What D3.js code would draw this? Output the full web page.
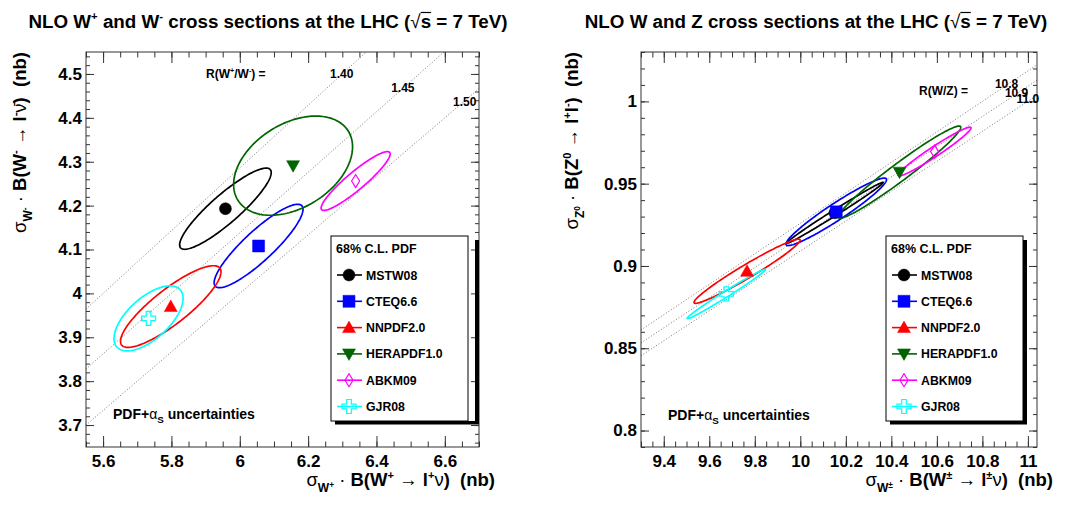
<!DOCTYPE html>
<html>
<head>
<meta charset="utf-8">
<script src="https://cdn.jsdelivr.net/npm/d3@7"></script>
<style>
  body { margin: 0; background: #ffffff; }
  svg { display: block; font-family: "Liberation Sans", Arial, Helvetica, sans-serif; }
  text { white-space: pre; }
</style>
</head>
<body>
<svg id="chart" width="1075" height="511"></svg>
<script>
// ---- PDF sets -------------------------------------------------------------
const pdfNames   = ["MSTW08", "CTEQ6.6", "NNPDF2.0", "HERAPDF1.0", "ABKM09", "GJR08"];
const pdfColors  = ["#000000", "#0000ff", "#ff0000", "#006400", "#ff00ff", "#00ffff"];
const pdfSymbols = ["circle", "square", "triangleUp", "triangleDown", "diamondOpen", "crossOpen"];

// ---- W+ vs W- cross sections (nb): central values, 68% C.L. errors, correlation
const wPlusCentral   = [5.958, 6.055, 5.798, 6.156, 6.339, 5.733];
const wMinusCentral  = [4.193, 4.108, 3.970, 4.291, 4.256, 3.943];
const wPlusErr       = [0.134, 0.130, 0.147, 0.174, 0.101, 0.101];
const wMinusErr      = [0.0925, 0.095, 0.093, 0.113, 0.067, 0.074];
const wPlusMinusCorr = [0.89, 0.88, 0.85, 0.38, 0.92, 0.62];

// ---- W vs Z cross sections (nb)
const wCentral = [10.152, 10.158, 9.766, 10.436, 10.590, 9.675];
const zCentral = [0.9323, 0.9329, 0.8968, 0.9570, 0.9695, 0.8830];
const wErr     = [0.212, 0.221, 0.233, 0.269, 0.160, 0.172];
const zErr     = [0.0185, 0.0205, 0.0195, 0.0280, 0.0148, 0.0150];
const wzCorr   = [0.994, 0.955, 0.970, 0.972, 0.970, 0.990];

// ---- constant-ratio reference lines
const ratioWpWm = [1.40, 1.45, 1.50];
const ratioWZ   = [10.8, 10.9, 11.0];

// ---- axis ticks
const xTicksL      = [5.6, 5.8, 6.0, 6.2, 6.4, 6.6];
const xTickLabelsL = ["5.6", "5.8", "6", "6.2", "6.4", "6.6"];
const yTicksL      = [3.7, 3.8, 3.9, 4.0, 4.1, 4.2, 4.3, 4.4, 4.5];
const yTickLabelsL = ["3.7", "3.8", "3.9", "4", "4.1", "4.2", "4.3", "4.4", "4.5"];
const xTicksR      = [9.4, 9.6, 9.8, 10.0, 10.2, 10.4, 10.6, 10.8, 11.0];
const xTickLabelsR = ["9.4", "9.6", "9.8", "10", "10.2", "10.4", "10.6", "10.8", "11"];
const yTicksR      = [0.80, 0.85, 0.90, 0.95, 1.00];
const yTickLabelsR = ["0.8", "0.85", "0.9", "0.95", "1"];

const svg = d3.select("#chart");

// Text with sub/superscripts built from tspans
function rich(g, x, y, size, parts, attrs = {}) {
  const t = g.append("text").attr("x", x).attr("y", y).attr("font-size", size);
  Object.entries(attrs).forEach(([k, v]) => t.attr(k, v));
  let cur = 0;
  parts.forEach(p => {
    const sh = p.sh || 0;
    const ts = t.append("tspan").text(p.t)
      .attr("font-weight", p.n ? "normal" : "bold")
      .attr("font-size", size * (p.sc || 1));
    if (sh !== cur) { ts.attr("dy", (sh - cur) * size); cur = sh; }
  });
  return t;
}

// Marker shapes (ROOT style)
function markerPath(sym) {
  switch (sym) {
    case "circle": return d3.symbol(d3.symbolCircle, Math.PI * 36)();
    case "square": return "M-6,-6H6V6H-6Z";
    case "triangleUp": return "M0,-6.5L6.5,5L-6.5,5Z";
    case "triangleDown": return "M0,6.5L6.5,-5L-6.5,-5Z";
    case "diamondOpen": return "M0,-6.5L4,0L0,6.5L-4,0Z";
    case "crossOpen": return "M-2.3,-7H2.3V-2.3H7V2.3H2.3V7H-2.3V2.3H-7V-2.3H-2.3Z";
  }
}
function drawMarker(g, x, y, i) {
  const open = pdfSymbols[i].endsWith("Open");
  g.append("path").attr("d", markerPath(pdfSymbols[i]))
    .attr("transform", `translate(${x},${y})`)
    .attr("fill", open ? "none" : pdfColors[i])
    .attr("stroke", pdfColors[i])
    .attr("stroke-width", open ? 1.2 : 0.5);
}

// Error ellipse from widths and correlation
function ellipsePoints(cx, cy, sx, sy, rho) {
  const s = Math.sqrt(1 - rho * rho);
  return d3.range(0, 181).map(k => {
    const t = k / 180 * 2 * Math.PI;
    return [cx + sx * Math.cos(t), cy + sy * (rho * Math.cos(t) + s * Math.sin(t))];
  });
}

function drawPanel(cfg) {
  const { x, y, id } = cfg;
  const g = svg.append("g");
  const [x0, x1] = x.range(), [y1, y0] = y.range();

  g.append("clipPath").attr("id", id).append("rect")
    .attr("x", x0).attr("y", y0).attr("width", x1 - x0).attr("height", y1 - y0);
  const plot = g.append("g").attr("clip-path", `url(#${id})`);

  // constant-ratio dotted lines
  const [dx0, dx1] = x.domain();
  cfg.ratios.forEach(r => {
    plot.append("line")
      .attr("x1", x(dx0)).attr("y1", y(dx0 / r))
      .attr("x2", x(dx1)).attr("y2", y(dx1 / r))
      .attr("stroke", "#555").attr("stroke-width", 0.8)
      .attr("stroke-dasharray", "1,2");
  });

  // ellipses
  const line = d3.line().x(d => x(d[0])).y(d => y(d[1])).curve(d3.curveLinearClosed);
  pdfNames.forEach((n, i) => {
    plot.append("path")
      .attr("d", line(ellipsePoints(cfg.cx[i], cfg.cy[i], cfg.sx[i], cfg.sy[i], cfg.rho[i])))
      .attr("fill", "none").attr("stroke", pdfColors[i]).attr("stroke-width", 1.7);
  });
  // central values
  cfg.drawOrder.forEach(i => drawMarker(plot, x(cfg.cx[i]), y(cfg.cy[i]), i));

  // axes: major and minor ticks on all four sides
  const ax = g.append("g");
  ax.append("g").attr("transform", `translate(0,${y1})`)
    .call(d3.axisBottom(x).tickValues(cfg.xTicks).tickFormat((d, i) => cfg.xLabels[i])
      .tickSizeInner(-11).tickSizeOuter(0).tickPadding(8));
  ax.append("g").attr("transform", `translate(0,${y1})`)
    .call(d3.axisBottom(x).tickValues(cfg.xMinor).tickFormat("").tickSizeInner(-5.5).tickSizeOuter(0));
  ax.append("g").attr("transform", `translate(0,${y0})`)
    .call(d3.axisTop(x).tickValues(cfg.xTicks).tickFormat("").tickSizeInner(-11).tickSizeOuter(0));
  ax.append("g").attr("transform", `translate(0,${y0})`)
    .call(d3.axisTop(x).tickValues(cfg.xMinor).tickFormat("").tickSizeInner(-5.5).tickSizeOuter(0));
  ax.append("g").attr("transform", `translate(${x0},0)`)
    .call(d3.axisLeft(y).tickValues(cfg.yTicks).tickFormat((d, i) => cfg.yLabels[i])
      .tickSizeInner(-8).tickSizeOuter(0).tickPadding(4));
  ax.append("g").attr("transform", `translate(${x0},0)`)
    .call(d3.axisLeft(y).tickValues(cfg.yMinor).tickFormat("").tickSizeInner(-4).tickSizeOuter(0));
  ax.append("g").attr("transform", `translate(${x1},0)`)
    .call(d3.axisRight(y).tickValues(cfg.yTicks).tickFormat("").tickSizeInner(-8).tickSizeOuter(0));
  ax.append("g").attr("transform", `translate(${x1},0)`)
    .call(d3.axisRight(y).tickValues(cfg.yMinor).tickFormat("").tickSizeInner(-4).tickSizeOuter(0));
  ax.selectAll(".domain").remove();
  ax.selectAll("line").attr("stroke", "#333");
  ax.selectAll("text").attr("font-weight", "bold").attr("fill", "#000")
    .attr("font-size", 17).attr("font-family", "'Liberation Sans', Arial, sans-serif");

  g.append("rect").attr("x", x0).attr("y", y0).attr("width", x1 - x0).attr("height", y1 - y0)
    .attr("fill", "none").attr("stroke", "#333").attr("stroke-width", 1);

  // ratio annotation
  rich(g, cfg.ratioTitle.x, cfg.ratioTitle.y, 12, cfg.ratioTitle.parts);
  cfg.ratioLabels.forEach(l =>
    g.append("text").attr("x", x(l.x)).attr("y", y(l.y)).attr("font-size", 12)
      .attr("font-weight", "bold").text(l.t));

  // uncertainty note
  rich(g, cfg.note.x, cfg.note.y, 14, [
    { t: "PDF+" }, { t: "α", n: 1 }, { t: "S", sc: 0.7, sh: 0.3 }, { t: " uncertainties" }
  ]);

  // legend with its drop shadow
  const L = cfg.legend;
  const lg = g.append("g");
  const sr = L.x + L.w + L.gap;   // left edge of the shadow's vertical bar
  lg.append("path")
    .attr("d", `M${sr},${L.y + 4}H${sr + 4}V${L.y + L.h + 3.5}H${L.x + 4}V${L.y + L.h}H${sr}Z`)
    .attr("fill", "#000");
  lg.append("rect").attr("x", L.x).attr("y", L.y).attr("width", L.w).attr("height", L.h)
    .attr("fill", "#fff").attr("stroke", "#000").attr("stroke-width", 1);
  lg.append("text").attr("x", L.x + 5).attr("y", L.y + 17).attr("font-size", 12.5)
    .attr("font-weight", "bold").text("68% C.L. PDF");
  pdfNames.forEach((n, i) => {
    const ly = L.y + 39 + i * 26.3;
    lg.append("line").attr("x1", L.x + 6).attr("x2", L.x + 31).attr("y1", ly).attr("y2", ly)
      .attr("stroke", pdfColors[i]).attr("stroke-width", 1.6);
    drawMarker(lg, L.x + 18, ly, i);
    lg.append("text").attr("x", L.x + 35).attr("y", ly + 4.5).attr("font-size", 12.3)
      .attr("font-weight", "bold").text(n);
  });

  // titles
  const title = rich(g, cfg.title.x, 28, 18.8, cfg.title.parts, { "text-anchor": "middle" });
  // overline on the "s" under the square root
  const txt = title.text();
  const si = txt.indexOf("√") + 1;
  const ext = title.node().getExtentOfChar(si);
  g.append("line").attr("x1", ext.x).attr("x2", ext.x + ext.width)
    .attr("y1", ext.y + 1.5).attr("y2", ext.y + 1.5).attr("stroke", "#000").attr("stroke-width", 1.2);

  rich(g, x1 + 16, 486, 18.5, cfg.xTitle, { "text-anchor": "end" });
  rich(g, 0, 0, 18.5, cfg.yTitle, {
    "text-anchor": "end", transform: `translate(${cfg.yTitleX},${y0}) rotate(-90)`
  });
}

function minorTicks(lo, hi, step) {
  const n = Math.round((hi - lo) / step);
  return d3.range(0, n + 1).map(k => +(lo + k * step).toFixed(4));
}

const xL = d3.scaleLinear().domain([5.55, 6.70]).range([86, 479]);
const yL = d3.scaleLinear().domain([3.65, 4.55]).range([447, 52]);
const xR = d3.scaleLinear().domain([9.30, 11.04]).range([641, 1037]);
const yR = d3.scaleLinear().domain([0.79, 1.03]).range([447, 52]);

drawPanel({
  id: "clipL", x: xL, y: yL,
  cx: wPlusCentral, cy: wMinusCentral, sx: wPlusErr, sy: wMinusErr, rho: wPlusMinusCorr,
  drawOrder: [0, 1, 2, 3, 4, 5],
  ratios: ratioWpWm,
  xTicks: xTicksL, xLabels: xTickLabelsL, xMinor: minorTicks(5.55, 6.70, 0.05),
  yTicks: yTicksL, yLabels: yTickLabelsL, yMinor: minorTicks(3.66, 4.54, 0.02),
  ratioTitle: { x: 206, y: 77.5, parts: [
    { t: "R(W" }, { t: "+", sc: 0.6, sh: -0.4 }, { t: "/W" }, { t: "-", sc: 0.6, sh: -0.4 }, { t: ") =" }] },
  ratioLabels: [
    { t: "1.40", x: 6.264, y: 4.490 },
    { t: "1.45", x: 6.443, y: 4.458 },
    { t: "1.50", x: 6.624, y: 4.428 }],
  note: { x: 113, y: 419 },
  legend: { x: 331, y: 236, w: 137, h: 185, gap: 7 },
  title: { x: 268, parts: [
    { t: "NLO W" }, { t: "+", sc: 0.6, sh: -0.45 }, { t: " and W" }, { t: "-", sc: 0.6, sh: -0.45 },
    { t: " cross sections at the LHC (" }, { t: "√", n: 1 }, { t: "s = 7 TeV)" }] },
  xTitle: [
    { t: "σ", n: 1 }, { t: "W", sc: 0.65, sh: 0.3 }, { t: "+", sc: 0.45, sh: 0.12 },
    { t: " · ", n: 1 }, { t: "B(W" }, { t: "+", sc: 0.6, sh: -0.4 }, { t: " → ", n: 1 },
    { t: "l" }, { t: "+", sc: 0.6, sh: -0.4 }, { t: "ν", n: 1 }, { t: ")  (nb)" }],
  yTitle: [
    { t: "σ", n: 1 }, { t: "W", sc: 0.65, sh: 0.3 }, { t: "-", sc: 0.45, sh: 0.12 },
    { t: " · ", n: 1 }, { t: "B(W" }, { t: "-", sc: 0.6, sh: -0.4 }, { t: " → ", n: 1 },
    { t: "l" }, { t: "-", sc: 0.6, sh: -0.4 }, { t: "ν̄", n: 1 }, { t: ")  (nb)" }],
  yTitleX: 26
});

drawPanel({
  id: "clipR", x: xR, y: yR,
  cx: wCentral, cy: zCentral, sx: wErr, sy: zErr, rho: wzCorr,
  drawOrder: [0, 2, 3, 4, 5, 1],
  ratios: ratioWZ,
  xTicks: xTicksR, xLabels: xTickLabelsR, xMinor: minorTicks(9.30, 11.00, 0.05),
  yTicks: yTicksR, yLabels: yTickLabelsR, yMinor: minorTicks(0.79, 1.03, 0.01),
  ratioTitle: { x: 919, y: 95, parts: [{ t: "R(W/Z) =" }] },
  ratioLabels: [
    { t: "10.8", x: 10.855, y: 1.0081 },
    { t: "10.9", x: 10.899, y: 1.0028 },
    { t: "11.0", x: 10.950, y: 0.9988 }],
  note: { x: 668, y: 420 },
  legend: { x: 886, y: 236, w: 137, h: 185, gap: 0 },
  title: { x: 816, parts: [
    { t: "NLO W and Z cross sections at the LHC (" }, { t: "√", n: 1 }, { t: "s = 7 TeV)" }] },
  xTitle: [
    { t: "σ", n: 1 }, { t: "W", sc: 0.65, sh: 0.3 }, { t: "±", sc: 0.45, sh: 0.12 },
    { t: " · ", n: 1 }, { t: "B(W" }, { t: "±", sc: 0.6, sh: -0.4 }, { t: " → ", n: 1 },
    { t: "l" }, { t: "±", sc: 0.6, sh: -0.4 }, { t: "ν", n: 1 }, { t: ")  (nb)" }],
  yTitle: [
    { t: "σ", n: 1 }, { t: "Z", sc: 0.65, sh: 0.3 }, { t: "0", sc: 0.45, sh: 0.12 },
    { t: " · ", n: 1 }, { t: "B(Z" }, { t: "0", sc: 0.6, sh: -0.4 }, { t: " → ", n: 1 },
    { t: "l" }, { t: "+", sc: 0.6, sh: -0.4 }, { t: "l" }, { t: "-", sc: 0.6, sh: -0.4 }, { t: ")  (nb)" }],
  yTitleX: 578
});
</script>
</body>
</html>
